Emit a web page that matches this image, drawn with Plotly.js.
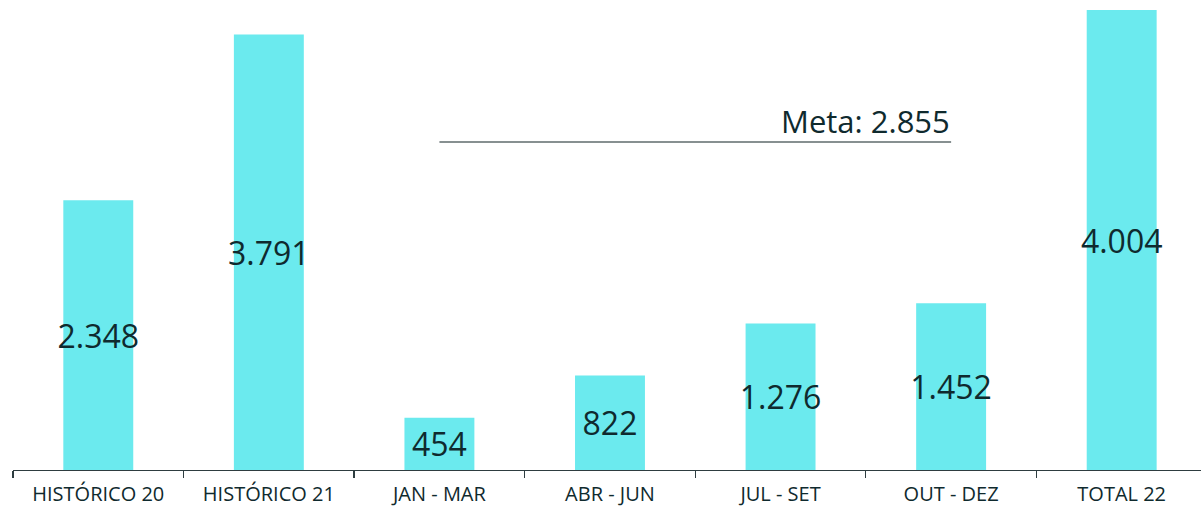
<!DOCTYPE html>
<html>
<head>
<meta charset="utf-8">
<script src="https://cdn.plot.ly/plotly-3.0.1.min.js"></script>
<style>html,body{margin:0;padding:0;overflow:hidden;background:#fff}</style>
</head>
<body>
<div id="chart" style="width:1201px;height:507px"></div>
<script>
const categories = ["HISTÓRICO 20", "HISTÓRICO 21", "JAN - MAR", "ABR - JUN", "JUL - SET", "OUT - DEZ", "TOTAL 22"];
const values = [2348, 3791, 454, 822, 1276, 1452, 4004];
const metaValue = 2855;
const metaLabel = "Meta";
const metaFrom = "JAN - MAR";
const metaTo = "OUT - DEZ";

const fontFam = "'Open Sans', 'Noto Sans', sans-serif";
const textColor = "#0f2a2e";

const fmt = v => v.toLocaleString('de-DE');

Plotly.newPlot('chart', [{
  type: 'bar',
  x: categories,
  y: values,
  marker: {color: '#6beaee'},
  texttemplate: '%{y:,}',
  textposition: 'inside',
  insidetextanchor: 'middle',
  textangle: 0,
  constraintext: 'none',
  textfont: {family: fontFam, size: 32, color: textColor},
  hoverinfo: 'skip',
  cliponaxis: false
}], {
  width: 1201,
  height: 507,
  margin: {l: 12.5, r: 0, t: 0, b: 37},
  separators: ',.',
  bargap: 0.59,
  paper_bgcolor: '#ffffff',
  plot_bgcolor: '#ffffff',
  showlegend: false,
  xaxis: {
    type: 'category',
    range: [-0.5, 6.465],
    showline: true,
    linecolor: '#2e3d40',
    linewidth: 1.3,
    ticks: 'outside',
    tickson: 'boundaries',
    ticklen: 7,
    tickwidth: 1.3,
    tickcolor: '#2e3d40',
    ticklabelstandoff: 6,
    showgrid: false,
    tickfont: {family: fontFam, size: 20, color: textColor},
    fixedrange: true
  },
  yaxis: {
    range: [0, 4091],
    visible: false,
    showgrid: false,
    zeroline: false,
    fixedrange: true
  },
  shapes: [{
    type: 'line',
    xref: 'x', yref: 'y',
    x0: metaFrom, x1: metaTo,
    y0: metaValue, y1: metaValue,
    line: {color: '#5f6b6c', width: 1.3}
  }],
  annotations: [{
    xref: 'x', yref: 'y',
    x: metaTo, y: metaValue,
    text: metaLabel + ': ' + fmt(metaValue),
    showarrow: false,
    xanchor: 'right', yanchor: 'bottom',
    yshift: -2,
    xshift: 1,
    font: {family: fontFam, size: 31, color: textColor}
  }]
}, {displayModeBar: false, staticPlot: true});
</script>
</body>
</html>
